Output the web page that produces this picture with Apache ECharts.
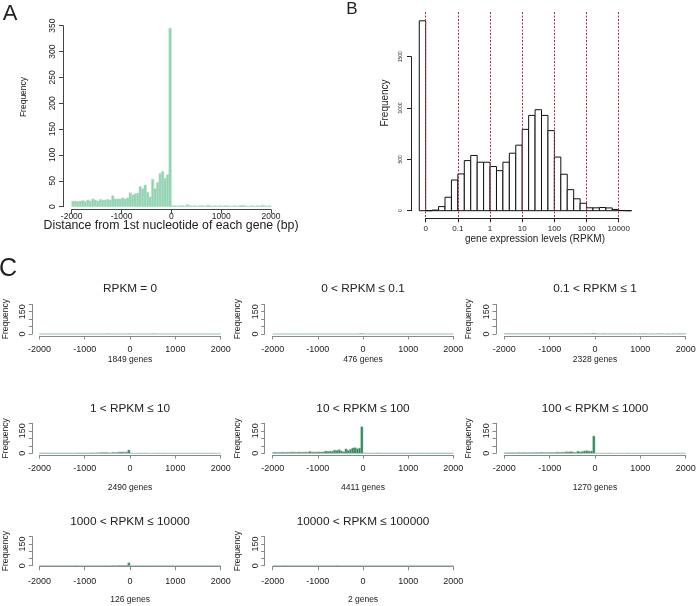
<!DOCTYPE html>
<html>
<head>
<meta charset="utf-8">
<script src="https://cdn.jsdelivr.net/npm/echarts@6/dist/echarts.min.js"></script>
<style>
  html, body { margin: 0; padding: 0; background: #fff; }
  #chart { width: 697px; height: 606px; }
</style>
</head>
<body>
<div id="chart"></div>
<script>
// ---- data ----
// A: histogram of distance (bp), bins of 50 from -2000 to 2000
const aBinStart = -2000
const aBinWidth = 50
const aCounts = [
  11, 11, 10, 11, 12, 10, 13, 11, 15, 13, 11, 14, 13, 13, 14, 13, 21, 15, 15, 15,
  17, 15, 17, 27, 23, 25, 26, 39, 35, 42, 28, 19, 53, 35, 47, 64, 68, 55, 62, 345,
  2, 2, 1, 2, 2, 1, 4, 2, 1, 2, 1, 2, 2, 1, 3, 2, 1, 2, 1, 2,
  1, 2, 2, 1, 1, 2, 1, 2, 3, 2, 1, 1, 2, 1, 2, 1, 3, 2, 1, 2
]

// B: expression histogram, log10(RPKM) bins of 0.2; RPKM = 0 drawn left of 0.01
const bZeroBin = [-2.2, -2.0]
const bZeroCount = 1849
const bBinStart = -2.0
const bBinWidth = 0.2
const bCounts = [
  0, 6, 40, 131, 299, 358, 488, 538, 472, 472, 430, 390, 472, 560, 638, 792,
  928, 983, 928, 780, 522, 355, 205, 116, 72, 28, 28, 31, 27, 12, 2, 0
]
const bTickValues = [-2, -1, 0, 1, 2, 3, 4]
const bTickLabels = ['0', '0.1', '1', '10', '100', '1000', '10000']

// C: per-expression-class histograms (same bins as A)
const cTitles = [
  'RPKM = 0', '0 < RPKM ≤ 0.1', '0.1 < RPKM ≤ 1',
  '1 < RPKM ≤ 10', '10 < RPKM ≤ 100', '100 < RPKM ≤ 1000',
  '1000 < RPKM ≤ 10000', '10000 < RPKM ≤ 100000'
]
const cGenes = ['1849 genes', '476 genes', '2328 genes', '2490 genes', '4411 genes', '1270 genes', '126 genes', '2 genes']
const cRpkm0 = [
  0, 0, 0, 0, 0, 0, 0, 0, 0, 0, 0, 0, 0, 0, 0, 0, 0, 0, 0, 0,
  0, 0, 0, 0, 0, 0, 0, 0, 0, 0, 1, 0, 0, 0, 0, 0, 0, 0, 0, 1,
  0, 0, 0, 0, 0, 0, 0, 0, 0, 0, 1, 0, 0, 0, 0, 0, 0, 0, 0, 0,
  0, 0, 0, 0, 0, 0, 0, 0, 0, 0, 0, 0, 0, 0, 0, 0, 0, 0, 0, 0
]
const cRpkm0to01 = [
  0, 0, 0, 0, 0, 0, 0, 0, 0, 0, 0, 0, 0, 0, 0, 0, 0, 0, 0, 0,
  0, 0, 0, 0, 0, 0, 0, 0, 0, 0, 0, 0, 0, 0, 0, 0, 0, 0, 1, 2,
  0, 0, 0, 0, 0, 0, 0, 0, 0, 0, 0, 0, 0, 0, 0, 0, 0, 0, 0, 0,
  0, 0, 0, 0, 0, 0, 0, 0, 0, 0, 0, 0, 0, 0, 0, 0, 0, 0, 0, 0
]
const cRpkm01to1 = [
  1, 1, 1, 1, 1, 1, 1, 1, 1, 1, 1, 1, 1, 1, 1, 1, 1, 1, 1, 1,
  1, 1, 1, 1, 1, 1, 1, 1, 1, 1, 1, 1, 1, 1, 1, 1, 1, 2, 1, 4,
  1, 1, 0, 1, 1, 0, 1, 1, 0, 1, 0, 1, 1, 0, 1, 1, 0, 1, 0, 1,
  0, 1, 1, 0, 0, 1, 0, 1, 1, 1, 0, 0, 1, 0, 1, 0, 1, 1, 0, 1
]
const cRpkm1to10 = [
  1, 1, 1, 1, 1, 1, 1, 1, 2, 1, 1, 1, 1, 1, 1, 1, 2, 2, 2, 2,
  2, 2, 2, 3, 2, 3, 3, 5, 4, 5, 3, 2, 6, 4, 6, 8, 8, 7, 8, 22,
  1, 0, 0, 0, 1, 0, 1, 0, 0, 0, 0, 0, 1, 0, 1, 0, 0, 0, 0, 0,
  0, 0, 0, 0, 0, 0, 0, 0, 1, 0, 0, 0, 0, 0, 0, 0, 1, 0, 0, 0
]
const cRpkm10to100 = [
  6, 6, 5, 6, 7, 5, 7, 6, 8, 7, 6, 8, 7, 7, 8, 7, 12, 8, 8, 8,
  9, 8, 9, 15, 13, 14, 14, 21, 19, 23, 15, 10, 29, 19, 26, 35, 37, 30, 34, 177,
  1, 1, 1, 1, 0, 1, 2, 1, 1, 1, 1, 1, 1, 1, 1, 1, 1, 1, 1, 1,
  1, 1, 1, 1, 1, 1, 1, 1, 2, 1, 1, 1, 1, 1, 1, 1, 1, 1, 1, 1
]
const cRpkm100to1000 = [
  3, 3, 3, 3, 3, 3, 4, 3, 4, 4, 3, 4, 4, 4, 4, 4, 6, 4, 4, 4,
  5, 4, 5, 7, 6, 7, 7, 10, 9, 11, 7, 5, 14, 9, 12, 16, 17, 14, 15, 115,
  0, 0, 0, 0, 0, 0, 1, 0, 0, 0, 0, 0, 0, 0, 1, 0, 0, 0, 0, 0,
  0, 0, 0, 0, 0, 0, 0, 0, 0, 0, 0, 0, 0, 0, 0, 0, 1, 0, 0, 0
]
const cRpkm1000to10000 = [
  0, 0, 0, 0, 0, 0, 0, 0, 0, 0, 0, 0, 0, 0, 0, 0, 1, 0, 0, 0,
  0, 0, 0, 0, 0, 0, 0, 0, 0, 1, 0, 0, 1, 0, 1, 2, 1, 1, 2, 20,
  0, 0, 0, 0, 0, 0, 0, 0, 0, 0, 0, 0, 0, 0, 0, 0, 0, 0, 0, 0,
  0, 0, 0, 0, 0, 0, 0, 0, 0, 0, 0, 0, 0, 0, 0, 0, 0, 0, 0, 0
]
const cRpkm10000plus = [
  0, 0, 0, 0, 0, 1, 0, 0, 0, 0, 0, 0, 0, 0, 0, 0, 0, 0, 0, 0,
  0, 0, 0, 0, 0, 0, 0, 0, 1, 0, 0, 0, 0, 0, 0, 0, 0, 0, 0, 0,
  0, 0, 0, 0, 0, 0, 0, 0, 0, 0, 0, 0, 0, 0, 0, 0, 0, 0, 0, 0,
  0, 0, 0, 0, 0, 0, 0, 0, 0, 0, 0, 0, 0, 0, 0, 0, 0, 0, 0, 0
]
const cCounts = [cRpkm0, cRpkm0to01, cRpkm01to1, cRpkm1to10, cRpkm10to100, cRpkm100to1000, cRpkm1000to10000, cRpkm10000plus]

// ---- layout ----
const FONT = 'Liberation Sans, Arial, Helvetica, sans-serif'
const TXT = '#222'

// C panel geometry: rows (y of value 200 / 0, axis offset, label margin, title/genes y)
const cRows = [
  { top: 304.3, zero: 334.0, xOff: 2, margin: 9.5, titleY: 289, genesY: 359.3 },
  { top: 423.3, zero: 453.3, xOff: 1.7, margin: 9.5, titleY: 408.3, genesY: 487.7 },
  { top: 536.7, zero: 565.7, xOff: 1, margin: 10.5, titleY: 521.7, genesY: 600 }
]
const cCols = [
  { left: 39.4, right: 220.7, axisX: 32.3 },
  { left: 272.7, right: 453.3, axisX: 264.7 },
  { left: 504.3, right: 685.7, axisX: 496 }
]

const plain = v => String(v)

const toBins = (counts, start, width) => counts.map((n, i) => [start + i * width, start + (i + 1) * width, n])

const histItem = (fill, stroke, lw) => (params, api) => {
  const p0 = api.coord([api.value(0), api.value(2)])
  const p1 = api.coord([api.value(1), 0])
  return {
    type: 'rect',
    shape: { x: p0[0], y: p0[1], width: p1[0] - p0[0], height: p1[1] - p0[1] },
    style: { fill: fill, stroke: stroke, lineWidth: lw }
  }
}

const grid = [], xAxis = [], yAxis = [], series = [], graphic = []

const hiddenAxis = (gi, min, max) => ({
  gridIndex: gi, type: 'value', min: min, max: max, show: false
})

const text = (str, x, y, size, opts) => Object.assign({
  type: 'text', x: x, y: y, silent: true,
  style: { text: str, font: size + 'px ' + FONT, fill: TXT, align: 'center', verticalAlign: 'middle' }
}, opts || {})

// ---- panel A ----
grid.push({ left: 71.7, top: 25.7, width: 199.3, height: 181, containLabel: false, outerBoundsMode: 'none' })
xAxis.push({
  gridIndex: 0, type: 'value', min: -2000, max: 2000, interval: 1000, offset: 3,
  axisLine: { onZero: false, lineStyle: { color: '#444', width: 1 } },
  axisTick: { length: 4, lineStyle: { color: '#444' } },
  axisLabel: { fontSize: 8.5, margin: 2, color: TXT, fontFamily: FONT, formatter: plain },
  splitLine: { show: false }
})
yAxis.push({
  gridIndex: 0, type: 'value', min: 0, max: 350, interval: 50, offset: 8.7,
  axisLine: { show: true, onZero: false, lineStyle: { color: '#444', width: 1 } },
  axisTick: { show: true, length: 4, lineStyle: { color: '#444' } },
  axisLabel: { fontSize: 8.5, margin: 6, rotate: 90, color: TXT, fontFamily: FONT, formatter: plain },
  splitLine: { show: false }
})
series.push({
  type: 'custom', xAxisIndex: 0, yAxisIndex: 0, clip: false,
  renderItem: histItem('#93d3b2', '#b3e0c8', 0.5),
  data: toBins(aCounts, aBinStart, aBinWidth)
})
graphic.push(text('A', 10, 14, 22))
graphic.push(text('Frequency', 24, 97, 8.5, { rotation: Math.PI / 2 }))
graphic.push(text('Distance from 1st nucleotide of each gene (bp)', 171, 226, 12.3))

// ---- panel B ----
const bPx = 32.17            // pixels per decade
const bZeroX = 425.7         // x of log10 = -2
// grid 1: x axis + red reference lines
grid.push({ left: bZeroX, top: 12, width: 6 * bPx, height: 206.3, containLabel: false, outerBoundsMode: 'none' })
xAxis.push({
  gridIndex: 1, type: 'value', min: -2, max: 4, interval: 1, z: 5,
  axisLine: { onZero: false, lineStyle: { color: '#222', width: 1 } },
  axisTick: { length: 4, lineStyle: { color: '#222' } },
  axisLabel: { fontSize: 8, margin: 6, color: TXT, fontFamily: FONT, formatter: v => bTickLabels[bTickValues.indexOf(v)] },
  splitLine: { show: true, lineStyle: { color: '#b0323a', width: 1, type: [2, 1.5] } }
})
yAxis.push(hiddenAxis(1, 0, 1))
// grid 2: y axis 0..1500
grid.push({ left: 411, top: 56.7, width: 10, height: 154, containLabel: false, outerBoundsMode: 'none' })
xAxis.push(hiddenAxis(2, 0, 1))
yAxis.push({
  gridIndex: 2, type: 'value', min: 0, max: 1500, interval: 500,
  axisLine: { show: true, onZero: false, lineStyle: { color: '#222', width: 1 } },
  axisTick: { show: true, length: 4, lineStyle: { color: '#222' } },
  axisLabel: { fontSize: 5, margin: 8, rotate: 90, color: TXT, fontFamily: FONT, formatter: plain },
  splitLine: { show: false }
})
// grid 3: histogram bars
grid.push({ left: bZeroX - 0.25 * bPx, top: 210.7 - 1900 * 0.1027, width: 6.7 * bPx, height: 1900 * 0.1027, containLabel: false, outerBoundsMode: 'none' })
xAxis.push(hiddenAxis(3, -2.25, 4.45))
yAxis.push(hiddenAxis(3, 0, 1900))
series.push({
  type: 'custom', xAxisIndex: 3, yAxisIndex: 3, clip: false, z: 2,
  renderItem: histItem('#fff', '#111', 1),
  data: [[bZeroBin[0], bZeroBin[1], bZeroCount]].concat(toBins(bCounts, bBinStart, bBinWidth))
})
graphic.push(text('B', 352, 9, 17))
graphic.push(text('Frequency', 385, 103, 10, { rotation: Math.PI / 2 }))
graphic.push(text('gene expression levels (RPKM)', 535, 239, 10))

// ---- panel C ----
graphic.push(text('C', 8, 269, 25))
cCounts.forEach((counts, k) => {
  const row = cRows[Math.floor(k / 3)]
  const col = cCols[k % 3]
  const gi = grid.length
  grid.push({ left: col.left, top: row.top, width: col.right - col.left, height: row.zero - row.top, containLabel: false, outerBoundsMode: 'none' })
  xAxis.push({
    gridIndex: gi, type: 'value', min: -2000, max: 2000, interval: 1000, offset: row.xOff,
    axisLine: { onZero: false, lineStyle: { color: '#888', width: 1 } },
    axisTick: { length: 3.5, lineStyle: { color: '#888' } },
    axisLabel: { fontSize: 9, margin: row.margin, color: TXT, fontFamily: FONT, formatter: plain },
    splitLine: { show: false }
  })
  yAxis.push({
    gridIndex: gi, type: 'value', min: 0, max: 200, interval: 50, offset: col.left - col.axisX,
    axisLine: { show: true, onZero: false, lineStyle: { color: '#888', width: 1 } },
    axisTick: { show: true, length: 3.5, lineStyle: { color: '#888' } },
    axisLabel: { fontSize: 9, margin: 5, rotate: 90, color: TXT, fontFamily: FONT, formatter: v => (v === 0 || v === 150) ? String(v) : '' },
    splitLine: { show: false }
  })
  series.push({
    type: 'custom', xAxisIndex: gi, yAxisIndex: gi, clip: false,
    renderItem: histItem('#2f8a5a', 'rgba(140,180,155,0.8)', 0.6),
    data: toBins(counts, aBinStart, aBinWidth)
  })
  const cx = (col.left + col.right) / 2
  graphic.push(text(cTitles[k], cx, row.titleY, 11.8))
  graphic.push(text(cGenes[k], cx, row.genesY, 8.5))
  graphic.push(text('Frequency', col.axisX - 27, (row.top + row.zero) / 2, 8.5, { rotation: Math.PI / 2 }))
})

const chart = echarts.init(document.getElementById('chart'), null, { renderer: 'canvas' })
chart.setOption({
  animation: false,
  backgroundColor: '#fff',
  textStyle: { fontFamily: FONT },
  grid: grid,
  xAxis: xAxis,
  yAxis: yAxis,
  series: series,
  graphic: graphic
})
</script>
</body>
</html>
